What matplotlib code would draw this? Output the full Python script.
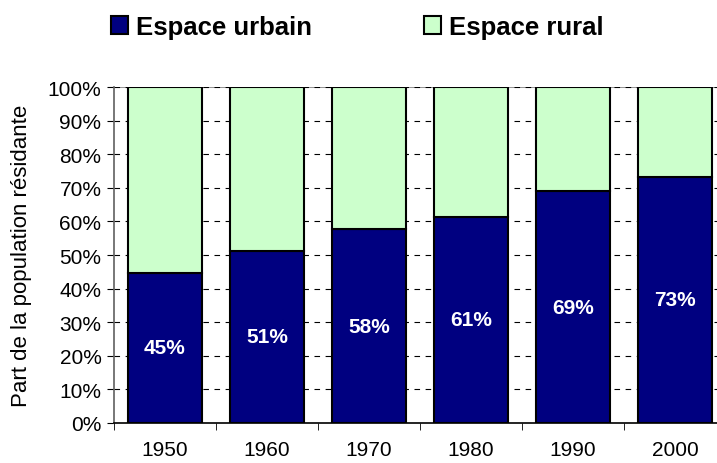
import matplotlib
matplotlib.use("Agg")
import matplotlib.pyplot as plt
from matplotlib.patches import Patch
from matplotlib.ticker import FixedLocator, PercentFormatter

plt.rcParams['font.family'] = ['Liberation Sans', 'DejaVu Sans']

years = ['1950', '1960', '1970', '1980', '1990', '2000']
urbain = [44.7, 51.3, 57.7, 61.4, 69.0, 73.3]
rural = [100 - u for u in urbain]
labels = ['45%', '51%', '58%', '61%', '69%', '73%']

c_urb = '#000080'
c_rur = '#CCFFCC'

fig = plt.figure(figsize=(7.17, 4.64), dpi=100)
ax = fig.add_axes([114/717, 40/464, 612/717, 336/464])

x = list(range(len(years)))
ax.bar(x, urbain, width=0.72, color=c_urb, edgecolor='black', linewidth=1.5, zorder=3)
ax.bar(x, rural, width=0.72, bottom=urbain, color=c_rur, edgecolor='black', linewidth=1.5, zorder=3)

for xi, u, lab in zip(x, urbain, labels):
    ax.text(xi, u / 2, lab, color='white', fontsize=15, fontweight='bold',
            ha='center', va='center', zorder=4)

ax.set_xlim(-0.5, 5.5)
ax.set_ylim(0, 100)
ax.set_yticks(range(0, 101, 10))
ax.yaxis.set_major_formatter(PercentFormatter(decimals=0))
ax.yaxis.grid(True, color='black', linestyle=(0, (5, 5)), linewidth=0.8, zorder=0)
ax.axhline(100, color='#808080', linewidth=1.2, zorder=1)

ax.set_xticks(x)
ax.set_xticklabels(years)
ax.xaxis.set_minor_locator(FixedLocator([i - 0.5 for i in range(len(years) + 1)]))
ax.tick_params(axis='x', which='major', length=0, labelsize=15, pad=12)
ax.tick_params(axis='x', which='minor', length=5, color='black', direction='out')
ax.tick_params(axis='y', length=5, labelsize=15, direction='out', color='black', pad=4)

for s in ['top', 'right']:
    ax.spines[s].set_visible(False)
ax.spines['left'].set_color('#606060')
ax.spines['left'].set_linewidth(1.2)
ax.spines['bottom'].set_color('black')
ax.spines['bottom'].set_linewidth(1.2)

ax.set_ylabel('Part de la population résidante', fontsize=16, labelpad=11)

handles = [Patch(facecolor=c_urb, edgecolor='black', linewidth=1.5, label='Espace urbain'),
           Patch(facecolor=c_rur, edgecolor='black', linewidth=1.5, label='Espace rural')]
fig.legend(handles=handles, loc='upper left', bbox_to_anchor=(111/717, 1 - 16/464), ncol=2,
           frameon=False, prop={'weight': 'bold', 'size': 18.5},
           borderpad=0, borderaxespad=0,
           handlelength=0.66, handleheight=0.66, handletextpad=0.31, columnspacing=4.36)

fig.savefig('out.png', dpi=100)
